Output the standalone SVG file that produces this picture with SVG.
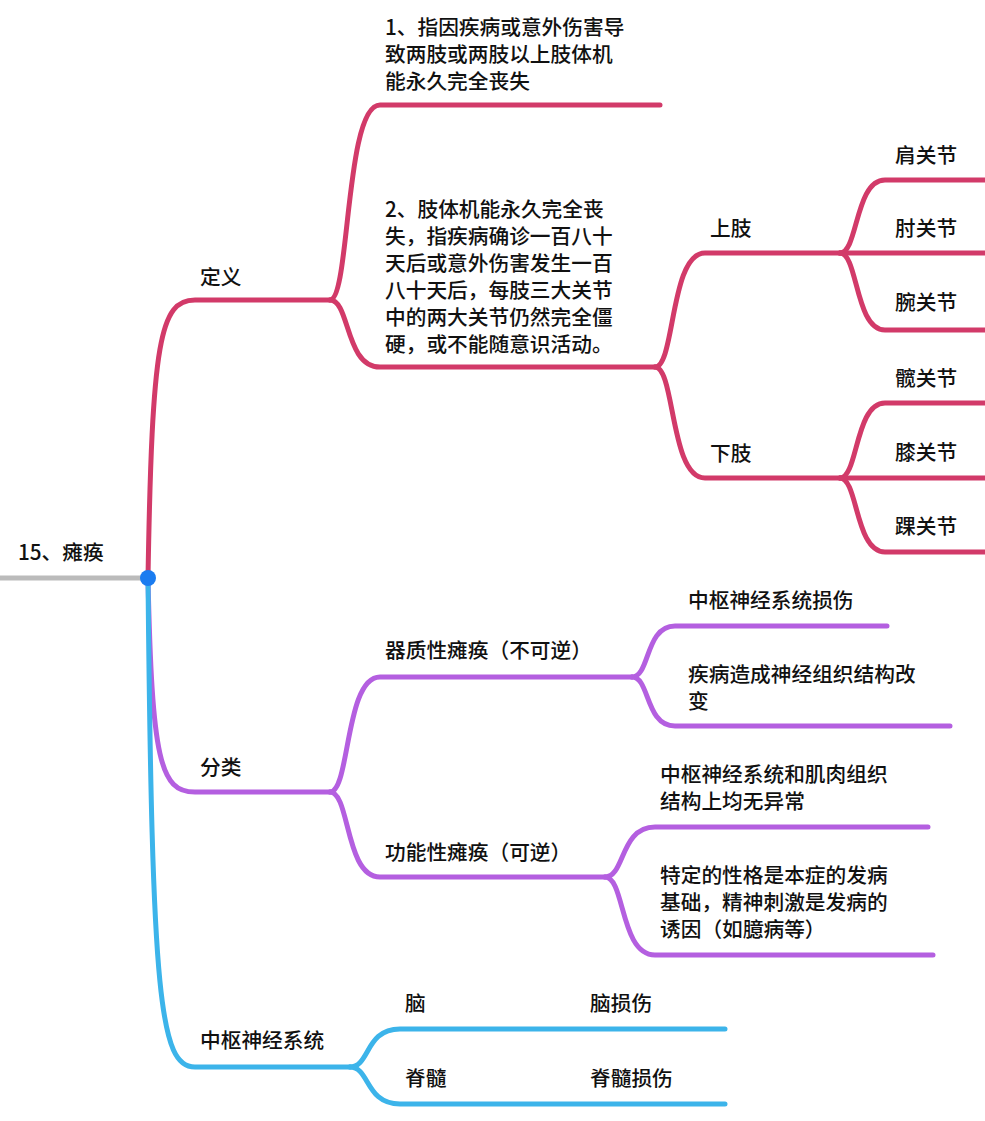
<svg xmlns="http://www.w3.org/2000/svg" width="985" height="1121" viewBox="0 0 985 1121">
<style>
text{font-family:"Noto Sans CJK SC","Liberation Sans",sans-serif;font-size:20.7px;fill:#111;font-weight:500}
.p{fill:none;stroke:#d23a69;stroke-width:5;stroke-linecap:round}
.v{fill:none;stroke:#b45fe0;stroke-width:5;stroke-linecap:round}
.b{fill:none;stroke:#3cb4ea;stroke-width:5;stroke-linecap:round}
</style>
<rect width="985" height="1121" fill="#fff"/>
<g id="connectors">
<path d="M0,578 L148,578" stroke="#bbb" stroke-width="5" fill="none"/>
<path class="p" d="M148,578 C152,340 160,300 195,300 L330,300"/>
<path class="p" d="M330,300 C350,300 345,105 380,105 L660,105"/>
<path class="p" d="M330,300 C350,300 345,367 380,367 L655,367"/>
<path class="p" d="M655,367 C675,367 670,253 705,253 L840,253"/>
<path class="p" d="M655,367 C675,367 670,478 705,478 L840,478"/>
<path class="p" d="M840,253 C858,253 855,180 885,180 L985,180"/>
<path class="p" d="M840,253 L985,253"/>
<path class="p" d="M840,253 C858,253 855,330 885,330 L985,330"/>
<path class="p" d="M840,478 C858,478 855,403 885,403 L985,403"/>
<path class="p" d="M840,478 L985,478"/>
<path class="p" d="M840,478 C858,478 855,552 885,552 L985,552"/>
<path class="v" d="M148,578 C152,760 160,792 195,792 L330,792"/>
<path class="v" d="M330,792 C350,792 345,677 380,677 L632,677"/>
<path class="v" d="M330,792 C350,792 345,877 380,877 L605,877"/>
<path class="v" d="M632,677 C650,677 645,626 675,626 L887,626"/>
<path class="v" d="M632,677 C650,677 645,726 675,726 L950,726"/>
<path class="v" d="M605,877 C625,877 620,827 655,827 L928,827"/>
<path class="v" d="M605,877 C625,877 620,955 655,955 L933,955"/>
<path class="b" d="M148,578 C152,1000 160,1067 195,1067 L350,1067"/>
<path class="b" d="M350,1067 C370,1067 365,1029 400,1029 L725,1029"/>
<path class="b" d="M350,1067 C370,1067 365,1104 400,1104 L725,1104"/>
<circle cx="148" cy="578" r="8" fill="#1a7cf0"/>
</g>
<g id="root"><text x="18" y="560">15、瘫痪</text></g>
<g id="dingyi"><text x="200" y="285">定义</text></g>
<g id="def1"><text x="385" y="35">1、指因疾病或意外伤害导</text><text x="385" y="62">致两肢或两肢以上肢体机</text><text x="385" y="89">能永久完全丧失</text></g>
<g id="def2"><text x="385" y="217">2、肢体机能永久完全丧</text><text x="385" y="244">失，指疾病确诊一百八十</text><text x="385" y="271">天后或意外伤害发生一百</text><text x="385" y="298">八十天后，每肢三大关节</text><text x="385" y="325">中的两大关节仍然完全僵</text><text x="385" y="352">硬，或不能随意识活动。</text></g>
<g id="shangzhi"><text x="710" y="236">上肢</text></g>
<g id="xiazhi"><text x="710" y="461">下肢</text></g>
<g id="j1"><text x="895" y="163">肩关节</text></g>
<g id="j2"><text x="895" y="236">肘关节</text></g>
<g id="j3"><text x="895" y="310">腕关节</text></g>
<g id="j4"><text x="895" y="386">髋关节</text></g>
<g id="j5"><text x="895" y="460">膝关节</text></g>
<g id="j6"><text x="895" y="534">踝关节</text></g>
<g id="fenlei"><text x="200" y="775">分类</text></g>
<g id="qizhi"><text x="385" y="658">器质性瘫痪（不可逆）</text></g>
<g id="gongneng"><text x="385" y="860">功能性瘫痪（可逆）</text></g>
<g id="q1"><text x="688" y="608">中枢神经系统损伤</text></g>
<g id="q2"><text x="688" y="682">疾病造成神经组织结构改</text><text x="688" y="709">变</text></g>
<g id="g1"><text x="660" y="782">中枢神经系统和肌肉组织</text><text x="660" y="809">结构上均无异常</text></g>
<g id="g2"><text x="660" y="883">特定的性格是本症的发病</text><text x="660" y="910">基础，精神刺激是发病的</text><text x="660" y="937">诱因（如臆病等）</text></g>
<g id="zhongshu"><text x="200" y="1048">中枢神经系统</text></g>
<g id="nao"><text x="405" y="1011">脑</text><text x="590" y="1011">脑损伤</text></g>
<g id="jisui"><text x="405" y="1086">脊髓</text><text x="590" y="1086">脊髓损伤</text></g>
</svg>
